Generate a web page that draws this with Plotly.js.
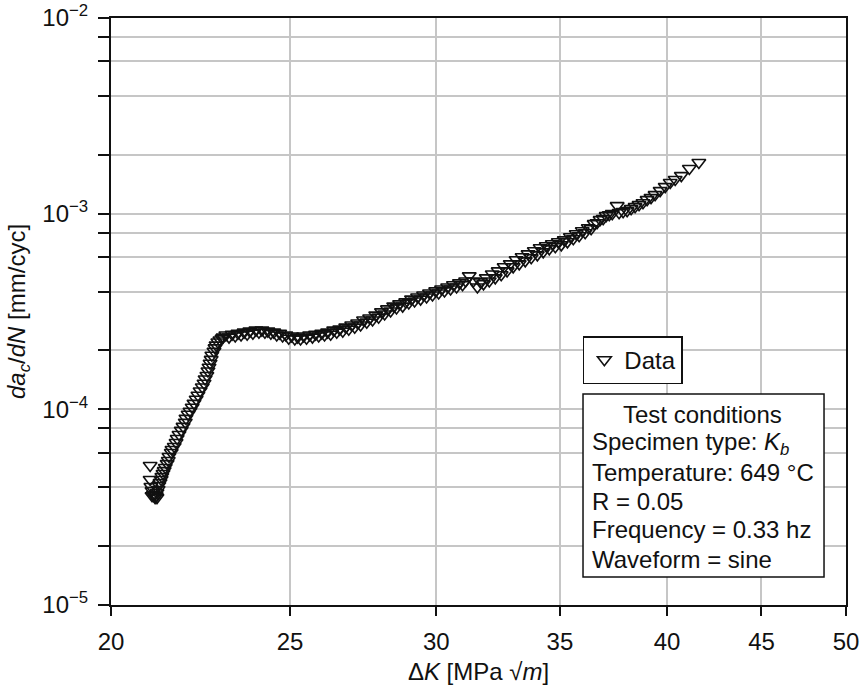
<!DOCTYPE html>
<html><head><meta charset="utf-8">
<script src="https://cdn.plot.ly/plotly-3.0.1.min.js"></script>
<style>html,body{margin:0;padding:0;background:#fff}#chart{width:862px;height:685px}</style>
</head><body><div id="chart"></div>
<script>
// ΔK [MPa √m]
const deltaK = [
21.00,21.00,21.02,21.05,21.05,21.08,21.10,21.13,21.16,21.18,21.18,21.21,21.23,21.26,21.29,21.31,21.34,21.37,21.40,21.45,
21.48,21.50,21.56,21.58,21.64,21.69,21.72,21.77,21.83,21.88,21.94,21.96,22.02,22.07,22.13,22.18,22.24,22.29,22.35,22.41,
22.46,22.49,22.54,22.57,22.60,22.63,22.66,22.68,22.74,22.77,22.80,22.85,22.91,22.97,
23.00,23.08,23.17,23.26,23.35,23.43,23.52,23.61,23.70,23.78,23.87,23.96,24.05,24.14,24.23,24.32,24.41,24.50,24.59,24.68,
24.77,24.87,24.96,25.05,25.15,25.24,25.33,25.43,25.52,25.62,25.71,25.81,25.91,26.01,26.10,26.20,26.30,26.40,26.50,26.60,
26.70,26.80,26.90,27.00,27.10,27.20,27.30,27.40,27.51,27.61,27.71,27.82,27.92,28.02,28.13,28.23,28.34,28.45,28.55,28.66,
28.77,28.88,28.99,29.09,29.20,29.31,29.42,29.53,29.64,29.75,29.86,29.98,30.09,30.20,30.31,30.43,30.54,30.65,30.77,30.88,
31.00,31.12,31.26,31.42,31.58,31.70,31.82,31.93,32.05,32.17,32.29,32.41,32.53,32.65,32.77,32.90,33.02,33.14,33.27,33.39,
33.52,33.64,33.77,33.90,34.03,34.15,34.28,34.41,34.54,34.67,34.80,34.93,35.06,35.19,35.33,35.46,35.59,35.72,35.85,35.99,
36.12,36.26,36.39,36.53,36.66,36.80,36.94,37.08,37.22,37.36,37.59,37.68,37.87,38.06,38.25,38.44,38.63,38.82,39.02,39.21,
39.41,39.66,39.91,40.16,40.41,40.72,41.13,41.62
];
// da_c/dN [mm/cyc]
const dacdN = [
5.16e-5,4.38e-5,4.03e-5,3.84e-5,3.62e-5,3.66e-5,3.62e-5,3.54e-5,3.62e-5,3.54e-5,3.75e-5,3.89e-5,4.08e-5,4.22e-5,4.38e-5,4.53e-5,4.70e-5,4.86e-5,5.04e-5,5.28e-5,
5.48e-5,5.74e-5,6.02e-5,6.23e-5,6.46e-5,6.77e-5,7.10e-5,7.44e-5,7.81e-5,8.18e-5,8.58e-5,8.99e-5,9.43e-5,9.77e-5,1.024e-4,1.073e-4,1.125e-4,1.18e-4,1.24e-4,1.30e-4,
1.36e-4,1.43e-4,1.49e-4,1.57e-4,1.64e-4,1.72e-4,1.80e-4,1.89e-4,1.98e-4,2.06e-4,2.13e-4,2.21e-4,2.26e-4,2.31e-4,
2.34e-4,2.40e-4,2.34e-4,2.42e-4,2.37e-4,2.45e-4,2.40e-4,2.48e-4,2.42e-4,2.51e-4,2.45e-4,2.54e-4,2.48e-4,2.54e-4,2.48e-4,2.51e-4,2.45e-4,2.48e-4,2.40e-4,2.45e-4,
2.37e-4,2.40e-4,2.31e-4,2.37e-4,2.29e-4,2.34e-4,2.29e-4,2.37e-4,2.31e-4,2.40e-4,2.34e-4,2.42e-4,2.37e-4,2.45e-4,2.40e-4,2.48e-4,2.42e-4,2.54e-4,2.48e-4,2.57e-4,
2.51e-4,2.63e-4,2.57e-4,2.70e-4,2.63e-4,2.76e-4,2.70e-4,2.86e-4,2.79e-4,2.93e-4,2.86e-4,3.03e-4,2.96e-4,3.15e-4,3.07e-4,3.26e-4,3.18e-4,3.37e-4,3.30e-4,3.46e-4,
3.37e-4,3.54e-4,3.50e-4,3.66e-4,3.58e-4,3.75e-4,3.66e-4,3.84e-4,3.75e-4,3.93e-4,3.84e-4,4.03e-4,3.93e-4,4.12e-4,4.03e-4,4.22e-4,4.12e-4,4.33e-4,4.22e-4,4.43e-4,
4.33e-4,4.53e-4,4.81e-4,4.53e-4,4.22e-4,4.48e-4,4.38e-4,4.70e-4,4.53e-4,4.92e-4,4.70e-4,5.10e-4,4.87e-4,5.35e-4,5.10e-4,5.54e-4,5.35e-4,5.81e-4,5.54e-4,6.02e-4,
5.74e-4,6.23e-4,5.95e-4,6.46e-4,6.16e-4,6.69e-4,6.38e-4,6.85e-4,6.61e-4,7.02e-4,6.77e-4,7.18e-4,6.93e-4,7.35e-4,7.18e-4,7.62e-4,7.44e-4,7.90e-4,7.71e-4,8.18e-4,
7.99e-4,8.48e-4,8.38e-4,8.89e-4,8.99e-4,9.32e-4,9.43e-4,9.77e-4,9.88e-4,1.000e-3,1.099e-3,1.012e-3,1.024e-3,1.036e-3,1.061e-3,1.086e-3,1.112e-3,1.138e-3,1.179e-3,1.208e-3,
1.251e-3,1.312e-3,1.375e-3,1.442e-3,1.494e-3,1.565e-3,1.701e-3,1.826e-3
];
const seriesName = 'Data';
const xTickVals = [20,25,30,35,40,45,50];
const xTickText = ['20','25','30','35','40','45','50'];
const yTickVals = [1e-5,1e-4,1e-3,1e-2];
const yTickText = ['10<sup>−5</sup>','10<sup>−4</sup>','10<sup>−3</sup>','10<sup>−2</sup>'];
const yMinorVals = [2e-5,4e-5,6e-5,8e-5,2e-4,4e-4,6e-4,8e-4,2e-3,4e-3,6e-3,8e-3];
const xTitle = 'Δ<i>K</i> [MPa √<i>m</i>]';
const yTitle = '<i>da</i><sub><i>c</i></sub>/<i>dN</i> [mm/cyc]';
const conditionsTitle = 'Test conditions';
const conditionsLines = ['Specimen type: <i>K<sub>b</sub></i>','Temperature: 649 °C','R = 0.05','Frequency = 0.33 hz','Waveform = sine'];

const FONT = 'Liberation Sans, Arial, Helvetica, sans-serif';
const FS = 24;
const trace = {
  x: deltaK, y: dacdN, type: 'scatter', mode: 'markers', name: seriesName,
  marker: {symbol: 'triangle-down-open', size: 12, color: '#111', line: {width: 1.6, color: '#111'}}
};
const axisCommon = {
  ticks: 'outside', tickwidth: 2, tickcolor: '#111',
  showline: true, linecolor: '#111', linewidth: 2, mirror: true,
  showgrid: true, gridcolor: '#c6c6c6', gridwidth: 2, zeroline: false,
  tickfont: {family: FONT, size: FS, color: '#111'}
};
const lineY = [0.2743, 0.2249, 0.1755, 0.1278, 0.0767];
const annotations = [
  {xref: 'paper', yref: 'paper', x: 0.805, y: 0.3237, xanchor: 'center', yanchor: 'middle',
   text: conditionsTitle, showarrow: false, font: {family: FONT, size: FS, color: '#111'}}
];
conditionsLines.forEach((t, i) => annotations.push({
  xref: 'paper', yref: 'paper', x: 0.652, y: lineY[i], xanchor: 'left', yanchor: 'middle', align: 'left',
  text: t, showarrow: false, font: {family: FONT, size: FS, color: '#111'}
}));
const layout = {
  width: 862, height: 685,
  margin: {l: 111, r: 16, t: 18, b: 80},
  paper_bgcolor: '#fff', plot_bgcolor: '#fff',
  font: {family: FONT, size: FS, color: '#111'},
  showlegend: true,
  legend: {x: 0.642, y: 0.458, xanchor: 'left', yanchor: 'top', bordercolor: '#111', borderwidth: 1.5,
           bgcolor: '#fff', font: {family: FONT, size: FS, color: '#111'}, itemwidth: 30},
  xaxis: Object.assign({}, axisCommon, {
    type: 'log', range: [Math.log10(20), Math.log10(50)],
    tickmode: 'array', tickvals: xTickVals, ticktext: xTickText, ticklen: 9, ticklabelstandoff: 5,
    title: {text: xTitle, font: {family: FONT, size: FS, color: '#111'}, standoff: 16}
  }),
  yaxis: Object.assign({}, axisCommon, {
    type: 'log', range: [-5, -2],
    tickmode: 'array', tickvals: yTickVals, ticktext: yTickText, ticklen: 11, ticklabelstandoff: 5,
    minor: {tickmode: 'array', tickvals: yMinorVals, ticks: 'outside', ticklen: 11, tickwidth: 2, tickcolor: '#111',
            showgrid: true, gridcolor: '#c6c6c6', gridwidth: 2},
    title: {text: yTitle, font: {family: FONT, size: FS, color: '#111'}, standoff: 10}
  }),
  shapes: [{type: 'rect', xref: 'paper', yref: 'paper', x0: 0.6422, x1: 0.9701, y0: 0.0477, y1: 0.3595,
            line: {color: '#111', width: 1.5}, fillcolor: '#fff', layer: 'above'}],
  annotations: annotations
};
Plotly.newPlot('chart', [trace], layout, {displayModeBar: false, staticPlot: true});
</script></body></html>
